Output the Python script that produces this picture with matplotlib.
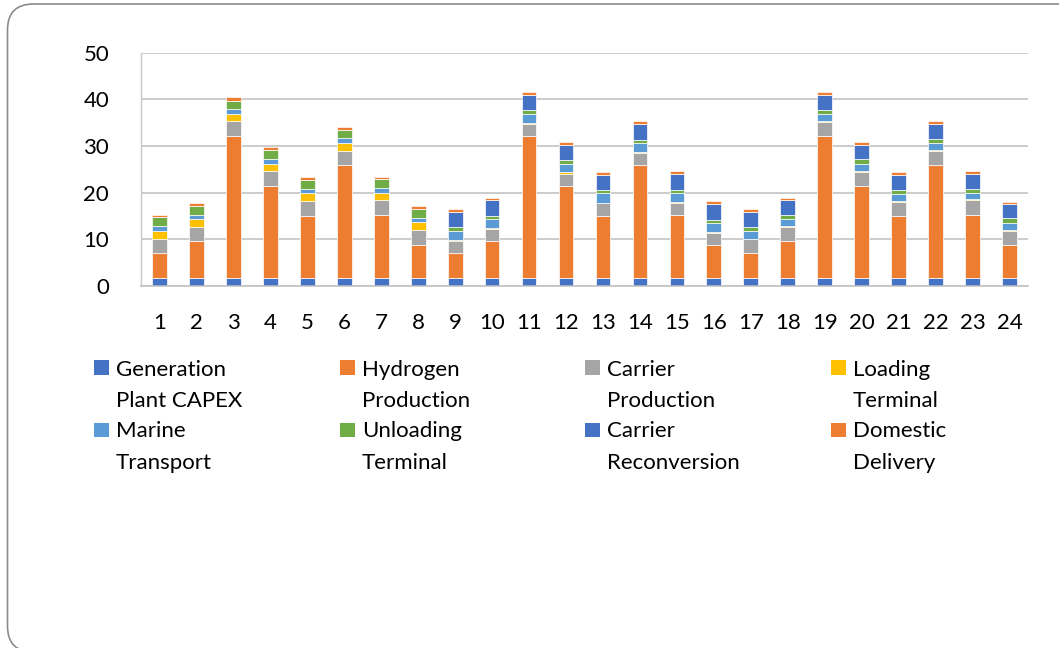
import matplotlib
matplotlib.use("Agg")
import matplotlib.pyplot as plt
from matplotlib.patches import FancyBboxPatch, Rectangle
from matplotlib.transforms import IdentityTransform
import numpy as np

plt.rcParams["font.family"] = ["Lato", "DejaVu Sans"]

# Cost components per case (stack order bottom -> top)
cases = [str(i) for i in range(1, 25)]
generation_capex = [1.6] * 24
hydrogen_production = [5.4, 7.9, 30.5, 19.8, 13.3, 24.3, 13.6, 7.2,
                       5.4, 7.9, 30.5, 19.8, 13.3, 24.3, 13.6, 7.2,
                       5.4, 7.9, 30.5, 19.8, 13.3, 24.3, 13.6, 7.2]
carrier_production = [3.1, 3.15, 3.2, 3.2, 3.2, 3.1, 3.15, 3.2,
                      2.5, 2.65, 2.6, 2.6, 2.8, 2.6, 2.6, 2.5,
                      2.95, 3.1, 3.1, 3.1, 3.15, 3.05, 3.1, 2.95]
loading_terminal = [1.7, 1.6, 1.6, 1.6, 1.8, 1.7, 1.65, 1.6,
                    0.25, 0.15, 0.2, 0.3, 0.15, 0.2, 0.25, 0.3,
                    0.15, 0.15, 0.15, 0.15, 0.2, 0.15, 0.2, 0.25]
marine_transport = [0.95, 1.0, 1.0, 1.0, 0.9, 0.9, 1.0, 0.95,
                    1.95, 2.0, 1.95, 1.9, 1.95, 1.95, 1.85, 1.9,
                    1.65, 1.55, 1.5, 1.55, 1.5, 1.55, 1.5, 1.45]
unloading_terminal = [1.9, 1.9, 1.7, 1.9, 1.85, 1.9, 1.9, 1.95,
                      0.8, 0.7, 0.75, 0.7, 0.7, 0.65, 0.7, 0.7,
                      0.95, 0.9, 0.85, 0.9, 0.8, 0.85, 0.85, 1.0]
carrier_reconversion = [0, 0, 0, 0, 0, 0, 0, 0,
                        3.3, 3.3, 3.3, 3.35, 3.2, 3.4, 3.3, 3.3,
                        3.1, 3.1, 3.15, 3.15, 3.1, 3.1, 3.05, 3.0]
domestic_delivery = [0.6, 0.6, 0.8, 0.6, 0.75, 0.6, 0.5, 0.55,
                     0.6, 0.6, 0.6, 0.55, 0.7, 0.6, 0.7, 0.6,
                     0.6, 0.6, 0.65, 0.55, 0.7, 0.65, 0.65, 0.6]

series_names = ["Generation\nPlant CAPEX", "Hydrogen\nProduction",
                "Carrier\nProduction", "Loading\nTerminal",
                "Marine\nTransport", "Unloading\nTerminal",
                "Carrier\nReconversion", "Domestic\nDelivery"]
series_values = [generation_capex, hydrogen_production, carrier_production,
                 loading_terminal, marine_transport, unloading_terminal,
                 carrier_reconversion, domestic_delivery]
colors = ["#4472C4", "#ED7D31", "#A5A5A5", "#FFC000",
          "#5B9BD5", "#70AD47", "#4472C4", "#ED7D31"]

W, H = 1059, 648
fig = plt.figure(figsize=(W / 100, H / 100), dpi=100)
fig.patch.set_facecolor("white")

# rounded chart-area border (right and bottom edges run past the canvas)
border = FancyBboxPatch((7.5, -4), 1078, 648,
                        boxstyle="round,pad=0,rounding_size=26",
                        transform=IdentityTransform(), fill=False,
                        edgecolor="#8C8C8C", linewidth=1.2, clip_on=False)
fig.patches.append(border)

ax = fig.add_axes([141 / W, 1 - 285.7 / H, (1028 - 141) / W, (285.7 - 52.7) / H])
x = np.arange(len(cases))
bottom = np.zeros(len(cases))
for vals, c in zip(series_values, colors):
    v = np.array(vals, dtype=float)
    ax.bar(x, v, width=0.4, bottom=bottom, color=c,
           edgecolor="white", linewidth=0.5)
    bottom += v

ax.set_xlim(-0.5, len(cases) - 0.5)
ax.set_ylim(0, 50)
ax.set_yticks([0, 10, 20, 30, 40, 50])
ax.set_xticks(x)
ax.set_xticklabels(cases)
ax.set_axisbelow(True)
ax.yaxis.grid(True, color="#BFBFBF", linewidth=1.1)
for s in ["top", "right"]:
    ax.spines[s].set_visible(False)
ax.spines["left"].set_color("#C8C8C8")
ax.spines["bottom"].set_color("#BFBFBF")
ax.spines["left"].set_linewidth(1.0)
ax.spines["bottom"].set_linewidth(1.1)
ax.tick_params(axis="both", length=0, labelsize=16, colors="black")
ax.tick_params(axis="y", pad=23)
ax.tick_params(axis="x", pad=20)

# legend laid out in two rows of four
col_marker_x = [94, 340, 585, 831]
col_text_x = [116, 362, 607, 853]
row_baselines = [(376, 406.7), (436.7, 469.3)]
marker_top = [360, 422.7]
for k in range(len(series_names)):
    r, cidx = divmod(k, 4)
    fig.patches.append(Rectangle((col_marker_x[cidx], H - marker_top[r] - 14.5),
                                 14.5, 14.5, transform=IdentityTransform(),
                                 facecolor=colors[k], edgecolor="none"))
    for line, yb in zip(series_names[k].split("\n"), row_baselines[r]):
        fig.text(col_text_x[cidx] / W, 1 - yb / H, line, fontsize=16,
                 ha="left", va="baseline", color="black")

fig.savefig("out.png", dpi=100, facecolor="white")
